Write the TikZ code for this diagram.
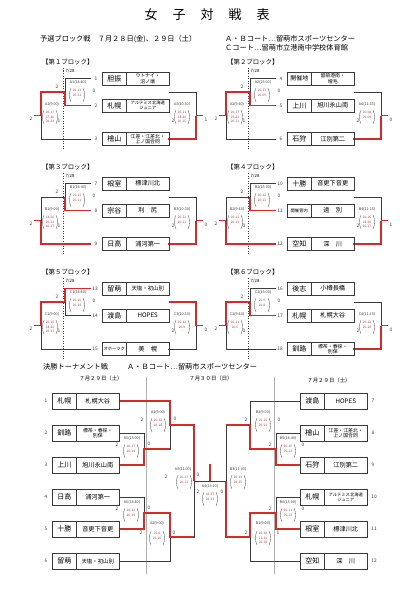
\documentclass[tikz,border=0pt]{standalone}
\usepackage{fontspec}
\setmainfont{Noto Sans CJK JP}
\definecolor{wred}{HTML}{D42A2A}
\definecolor{sred}{HTML}{B33A3A}
\definecolor{dk}{HTML}{3C3C3C}
\definecolor{sepc}{HTML}{B0B0B0}
\newcommand\fT{\fontsize{13}{15}\selectfont}
\newcommand\fH{\fontsize{7.2}{8.5}\selectfont}
\newcommand\fBH{\fontsize{6.4}{7.5}\selectfont}
\newcommand\fR{\fontsize{7}{8}\selectfont}
\newcommand\fS{\fontsize{6.2}{7}\selectfont}
\newcommand\fSt{\fontsize{4.9}{5.6}\selectfont}
\newcommand\fSs{\fontsize{4.3}{5}\selectfont}
\newcommand\fD{\fontsize{5.4}{6}\selectfont}
\tikzset{
  ln/.style={draw=dk,line width=0.7pt},
  rl/.style={draw=wred,line width=1.3pt},
  cell/.style={draw=dk,line width=0.7pt,inner sep=0pt,align=center,text=black},
  lab/.style={font=\fontsize{3.7}{4}\selectfont,inner sep=0pt,text=dk},
  num/.style={font=\fontsize{4.8}{5}\selectfont,inner sep=0pt,text=dk},
  sc/.style={font=\fontsize{3.2}{3.4}\selectfont,inner sep=0pt,text=sred},
  par/.style={draw=dk,line width=0.3pt},
  dashsep/.style={draw=dk,line width=0.5pt,dash pattern=on 1.4pt off 1.1pt},
}
\newcommand\bh{13}
% \team{id}{xleft}{y}{num}{numx}{region}{school}{schoolfont}
\newcommand\team[8]{%
  \node[cell,font=\fR,minimum width=24.5,minimum height=\bh] (#1r) at (#2+12.25,#3) {#6};
  \node[cell,font=#8,minimum width=42.5,minimum height=\bh] (#1s) at (#2+45.75,#3) {#7};
  \node[num] (#1n) at (#5,#3) {#4};
}
% \scr{x}{y}{s1}{s2}{s3}
\newcommand\scr[5]{%
  \node[sc] at (#1,#2-4.4) {#3};
  \node[sc] at (#1,#2) {#4};
  \node[sc] at (#1,#2+4.4) {#5};
  \draw[par] (#1-6,#2-7) .. controls (#1-8,#2-3) and (#1-8,#2+3) .. (#1-6,#2+7);
  \draw[par] (#1+6,#2-7) .. controls (#1+8,#2-3) and (#1+8,#2+3) .. (#1+6,#2+7);
}
\newcommand\rseg[3]{\ifnum#1=#2\relax\draw[rl] #3;\fi}
\newcommand\blines[3]{%
  \draw[dashsep] (63,68)--(63,150);
  \draw[ln] (91,78.5)--(65,78.5)--(65,105.5)--(91,105.5);
  \draw[ln] (65,92)--(41,92)--(41,139)--(91,139);
  \draw[ln] (169,92)--(196,92)--(196,139)--(168,139);
  \rseg{#1}{0}{(91,78.5)--(65,78.5)--(65,92)}
  \rseg{#1}{1}{(91,105.5)--(65,105.5)--(65,92)}
  \rseg{#2}{0}{(65,92)--(41,92)--(41,115.5)}
  \rseg{#2}{1}{(91,139)--(41,139)--(41,115.5)}
  \draw[rl] (34,115.5)--(41,115.5);
  \rseg{#3}{0}{(169,92)--(196,92)--(196,115.5)}
  \rseg{#3}{1}{(168,139)--(196,139)--(196,115.5)}
  \draw[rl] (196,115.5)--(203,115.5);
}
\newcommand\bnums[6]{%
  \node[num] at (57,87) {#1}; \node[num] at (94,91) {#2};
  \node[num] at (31,119) {#3}; \node[num] at (59,121) {#4};
  \node[num] at (173,121) {#5}; \node[num] at (206,120) {#6};
}
\newcommand\bhead[2]{%
  \node[anchor=west,font=\fBH,inner sep=0pt] (#1) at (42,62) {#2};
  \node[font=\fontsize{4.3}{5}\selectfont,inner sep=0pt] (#1d) at (70,71) {7/28};
}
\begin{document}
\begin{tikzpicture}[x=1pt,y=-1pt]
\useasboundingbox (0,0) rectangle (420,594);
\fill[white] (0,0) rectangle (420,594);
% title
\node[font=\fT] (ti1) at (151,15) {女};
\node[font=\fT] (ti2) at (179,15) {子};
\node[font=\fT] (ti3) at (207,15) {対};
\node[font=\fT] (ti4) at (235,15) {戦};
\node[font=\fT] (ti5) at (263,15) {表};
\node[anchor=west,font=\fH,inner sep=0pt] (hd1) at (40,39) {予選ブロック戦　７月２８日(金)、２９日（土）};
\node[anchor=west,font=\fH,inner sep=0pt] (hd2) at (225,39) {Ａ・Ｂコート…留萌市スポーツセンター};
\node[anchor=west,font=\fH,inner sep=0pt] (hd3) at (225,47.5) {Ｃコート…留萌市立港南中学校体育館};

% ---------- Block 1
\begin{scope}[shift={(0,0)}]
\bhead{bh1}{【第１ブロック】}
\blines{1}{0}{1}
\team{t1}{102}{78.5}{1}{96}{胆振}{ウトナイ・\\沼ノ端}{\fSt}
\team{t2}{102}{105.5}{2}{96}{札幌}{アルテミス北海道\\ジュニア}{\fSs}
\team{t3}{102}{139}{3}{96}{檜山}{江差・江差北・\\上ノ国合同}{\fSt}
\node[lab] at (78,82.5) {A1(14:40)}; \scr{77}{95}{20-13}{20-11}{-}
\node[lab] at (52,104) {A1(9:00)}; \scr{50}{117}{20-17}{17-20}{20-14}
\node[lab] at (182,104) {A3(10:30)}; \scr{182}{117}{20-11}{18-20}{20-15}
\bnums{2}{0}{2}{1}{2}{1}
\end{scope}

% ---------- Block 2
\begin{scope}[shift={(185,0)}]
\bhead{bh2}{【第２ブロック】}
\blines{1}{0}{1}
\team{t4}{102}{78.5}{4}{96}{{\fontsize{6}{7}\selectfont 開催地}}{留萌港南・\\増毛}{\fSt}
\team{t5}{102}{105.5}{5}{96}{上川}{旭川永山南}{\fS}
\team{t6}{102}{139}{6}{96}{石狩}{江別第二}{\fS}
\node[lab] at (78,82.5) {A2(15:00)}; \scr{77}{95}{20-17}{20-09}{-}
\node[lab] at (52,104) {A2(9:40)}; \scr{50}{117}{20-17}{19-21}{20-11}
\node[lab] at (182,104) {A4(11:15)}; \scr{182}{117}{20-08}{20-09}{-}
\bnums{2}{0}{2}{1}{2}{0}
\end{scope}

% ---------- Block 3
\begin{scope}[shift={(0,105)}]
\bhead{bh3}{【第３ブロック】}
\blines{1}{1}{1}
\team{t7}{102}{78.5}{7}{96}{根室}{標津川北}{\fS}
\team{t8}{102}{105.5}{8}{96}{宗谷}{利　尻}{\fS}
\team{t9}{102}{139}{9}{96}{日高}{浦河第一}{\fS}
\node[lab] at (78,82.5) {B1(14:40)}; \scr{77}{95}{20-13}{20-11}{-}
\node[lab] at (52,104) {B1(9:00)}; \scr{50}{117}{18-20}{20-11}{20-17}
\node[lab] at (182,104) {B3(10:30)}; \scr{182}{117}{20-12}{20-11}{-}
\bnums{2}{0}{2}{1}{2}{0}
\end{scope}

% ---------- Block 4
\begin{scope}[shift={(185,105)}]
\bhead{bh4}{【第４ブロック】}
\blines{1}{1}{1}
\team{t10}{102}{78.5}{10}{95}{十勝}{音更下音更}{\fS}
\team{t11}{102}{105.5}{11}{95}{{\fontsize{4.3}{5}\selectfont 開催管内}}{遠　別}{\fS}
\team{t12}{102}{139}{12}{95}{空知}{深　川}{\fS}
\node[lab] at (78,82.5) {B2(15:00)}; \scr{77}{95}{20-12}{20-13}{-}
\node[lab] at (52,104) {B2(9:40)}; \scr{50}{117}{20-11}{20-13}{-}
\node[lab] at (182,104) {B4(11:15)}; \scr{182}{117}{20-16}{18-20}{20-17}
\bnums{2}{0}{2}{0}{2}{1}
\end{scope}

% ---------- Block 5
\begin{scope}[shift={(0,210)}]
\bhead{bh5}{【第５ブロック】}
\blines{0}{0}{0}
\team{t13}{102}{78.5}{13}{95}{留萌}{天塩・初山別}{\fontsize{5.4}{6}\selectfont}
\team{t14}{102}{105.5}{14}{95}{渡島}{HOPES}{\fS}
\team{t15}{102}{139}{15}{95}{{\fontsize{4.3}{5}\selectfont オホーツク}}{美　幌}{\fS}
\node[lab] at (78,82.5) {C1(14:40)}; \scr{77}{95}{20-10}{20-14}{-}
\node[lab] at (52,104) {C1(9:00)}; \scr{50}{117}{20-15}{18-20}{20-13}
\node[lab] at (182,104) {C3(10:30)}; \scr{182}{117}{20-12}{20-9}{-}
\bnums{2}{0}{2}{1}{2}{0}
\end{scope}

% ---------- Block 6
\begin{scope}[shift={(185,210)}]
\bhead{bh6}{【第６ブロック】}
\blines{1}{0}{1}
\team{t16}{102}{78.5}{16}{95}{後志}{小樽長橋}{\fS}
\team{t17}{102}{105.5}{17}{95}{札幌}{札幌大谷}{\fS}
\team{t18}{102}{139}{18}{95}{釧路}{標茶・春採・\\別保}{\fSt}
\node[lab] at (78,82.5) {C2(15:00)}; \scr{77}{95}{20-9}{20-8}{-}
\node[lab] at (52,104) {C2(9:40)}; \scr{50}{117}{20-11}{20-5}{-}
\node[lab] at (182,104) {C4(11:15)}; \scr{182}{117}{20-12}{20-18}{-}
\bnums{2}{0}{2}{0}{2}{0}
\end{scope}

% ---------- Final tournament
\renewcommand\bh{16}
\node[anchor=west,font=\fH,inner sep=0pt] (fh1) at (43,367) {決勝トーナメント戦};
\node[anchor=west,font=\fH,inner sep=0pt] (fh2) at (127,367) {Ａ・Ｂコート…留萌市スポーツセンター};
\node[font=\fD,inner sep=0pt] (fd1) at (101,378.5) {７月２９日（土）};
\node[font=\fD,inner sep=0pt] (fd2) at (211,378.5) {７月３０日（日）};
\node[font=\fD,inner sep=0pt] (fd3) at (329,380) {７月２９日（土）};
\draw[sepc,line width=0.45pt] (146,377)--(146,574);
\draw[sepc,line width=0.45pt] (274,377)--(274,574);

% skeleton left
\draw[ln] (120,433)--(144,433)--(144,465)--(120,465);
\draw[ln] (120,401)--(170,401)--(170,449)--(144,449);
\draw[ln] (120,497)--(144,497)--(144,529)--(120,529);
\draw[ln] (144,513)--(170,513)--(170,561)--(120,561);
\draw[ln] (170,425)--(194,425)--(194,537)--(170,537);
\draw[ln] (194,481)--(226,481);
% skeleton right
\draw[ln] (300,433)--(276,433)--(276,465)--(300,465);
\draw[ln] (300,401)--(250,401)--(250,449)--(276,449);
\draw[ln] (300,497)--(276,497)--(276,529)--(300,529);
\draw[ln] (276,513)--(250,513)--(250,561)--(300,561);
\draw[ln] (250,425)--(226,425)--(226,537)--(250,537);
% winner paths
\draw[rl] (120,465)--(144,465)--(144,449)--(170,449);
\draw[rl] (120,401)--(170,401)--(170,425)--(194,425)--(194,481);
\draw[rl] (120,529)--(144,529)--(144,513)--(170,513)--(170,537)--(194,537);
\draw[rl] (300,465)--(276,465)--(276,449)--(250,449)--(250,425)--(226,425);
\draw[rl] (300,529)--(276,529)--(276,513)--(250,513)--(250,537)--(226,537)--(226,481);
\draw[rl] (210,481)--(210,464);

% teams left
\team{f1}{52}{401}{1}{46}{札幌}{札幌大谷}{\fS}
\team{f2}{52}{433}{2}{46}{釧路}{標茶・春採・\\別保}{\fSt}
\team{f3}{52}{465}{3}{46}{上川}{旭川永山南}{\fS}
\team{f4}{52}{497}{4}{46}{日高}{浦河第一}{\fS}
\team{f5}{52}{529}{5}{46}{十勝}{音更下音更}{\fS}
\team{f6}{52}{561}{6}{46}{留萌}{天塩・初山別}{\fontsize{5.4}{6}\selectfont}
% teams right
\team{f7}{300}{401}{7}{373}{渡島}{HOPES}{\fS}
\team{f8}{300}{433}{8}{373}{檜山}{江差・江差北・\\上ノ国合同}{\fSt}
\team{f9}{300}{465}{9}{373}{石狩}{江別第二}{\fS}
\team{f10}{300}{497}{10}{374}{札幌}{アルテミス北海道\\ジュニア}{\fSs}
\team{f11}{300}{529}{11}{374}{根室}{標津川北}{\fS}
\team{f12}{300}{561}{12}{374}{空知}{深　川}{\fS}

% match labels and scores
\node[lab] at (132,438) {A5(13:00)}; \scr{131}{451}{20-17}{20-14}{-}
\node[num] at (117,445) {2}; \node[num] at (149,444) {0};
\node[lab] at (158,412) {A1(9:00)}; \scr{158}{425}{20-12}{20-18}{-}
\node[num] at (142,420) {2}; \node[num] at (175,419) {0};
\node[lab] at (132,502) {A6(14:40)}; \scr{131}{515}{20-12}{20-10}{-}
\node[num] at (117,509) {2}; \node[num] at (149,508) {0};
\node[lab] at (157,523) {A2(9:00)}; \scr{157}{538}{20-6}{20-16}{-}
\node[num] at (141,533) {2}; \node[num] at (174,533) {0};
\node[lab] at (183,469) {A3(11:00)}; \scr{184}{482}{20-17}{20-13}{-}
\node[num] at (166,477) {2}; \node[num] at (198,475) {0};
\node[lab] at (210,486) {A4(13:10)}; \scr{210}{499}{20-17}{20-13}{-}
\node[num] at (198,492) {2}; \node[num] at (222,492) {0};
\node[lab] at (238,469) {B3(11:00)}; \scr{238}{482}{20-13}{20-15}{-}
\node[lab] at (263,412) {B2(9:00)}; \scr{263}{425}{20-15}{20-13}{-}
\node[num] at (246,420) {2}; \node[num] at (279,420) {0};
\node[lab] at (288,438) {B5(14:40)}; \scr{288}{451}{20-10}{20-13}{-}
\node[num] at (270,445) {2}; \node[num] at (303,445) {0};
\node[lab] at (288,502) {B6(13:00)}; \scr{288}{515}{20-11}{20-13}{-}
\node[num] at (270,509) {2}; \node[num] at (303,509) {0};
\node[lab] at (263,523) {B1(9:00)}; \scr{263}{538}{20-18}{11-20}{20-18}
\node[num] at (246,533) {2}; \node[num] at (278,533) {1};
\end{tikzpicture}
\end{document}
